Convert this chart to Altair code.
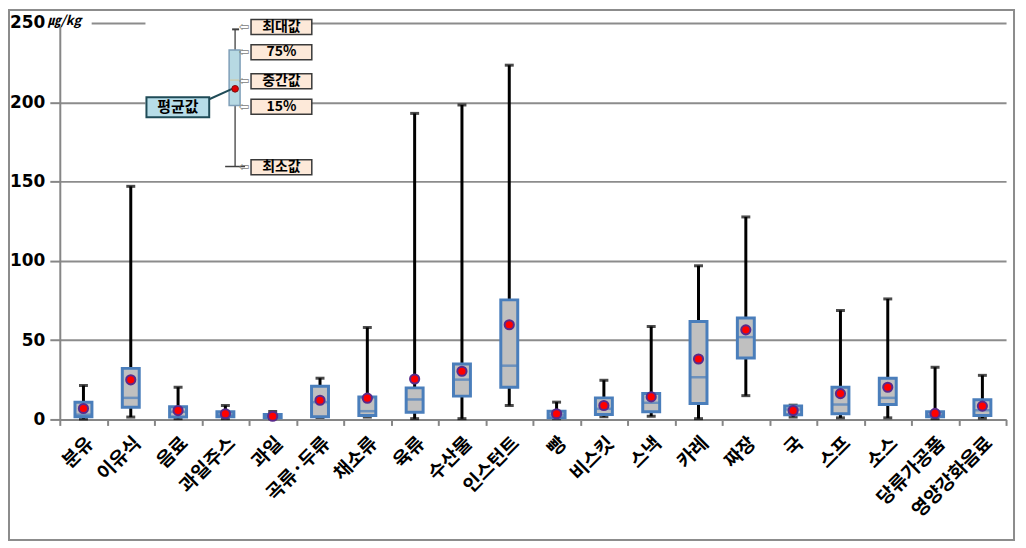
import altair as alt
import pandas as pd

# ---------------- data ----------------
categories = ["분유", "이유식", "음료", "과일주스", "과일", "곡류·두류", "채소류", "육류", "수산물",
              "인스턴트", "빵", "비스킷", "스낵", "카레", "짜장", "국", "스프", "소스", "당류가공품", "영양강화음료"]
v_min = [0.3, 1.5, 0.5, 0.5, 0.5, 1.2, 1.5, 0.5, 0.5, 8.8, 0.5, 1.7, 2.0, 0.5, 15.0, 1.5, 1.0, 1.0, 0.5, 0.8]
v_q1 = [1.7, 7.7, 1.5, 1.7, 1.0, 1.7, 2.5, 4.6, 14.7, 20.3, 1.0, 3.1, 4.8, 10.0, 38.7, 2.9, 3.6, 9.4, 1.7, 2.5]
v_med = [3.0, 13.6, 4.8, 3.0, 2.0, 10.9, 5.2, 12.6, 25.1, 33.9, 3.0, 6.7, 10.5, 26.6, 51.9, 6.3, 9.4, 13.6, 3.0, 5.8]
v_q3 = [10.9, 32.2, 8.0, 4.8, 3.1, 21.0, 14.2, 19.9, 35.0, 75.4, 5.2, 13.6, 16.3, 61.8, 63.9, 8.4, 20.3, 26.0, 4.8, 12.4]
v_max = [21.4, 147.0, 20.3, 8.8, 5.0, 26.0, 58.0, 193.0, 198.3, 223.4, 10.9, 24.7, 58.6, 96.9, 127.7, 9.0, 68.7, 76.0, 32.9, 27.8]
v_mean = [6.9, 25.0, 5.6, 3.6, 2.0, 12.1, 13.4, 25.5, 30.4, 59.7, 3.6, 8.8, 14.2, 38.1, 56.5, 5.6, 16.3, 20.3, 3.8, 8.4]

y_ticks = [0, 50, 100, 150, 200, 250]
unit_label = "㎍/kg"

# schematic legend box (in data units)
leg_min, leg_q1, leg_med, leg_q3, leg_max, leg_mean = 159.5, 198.0, 214.0, 233.0, 246.0, 208.5
callout_labels = ["최대값", "75%", "중간값", "15%", "최소값"]
callout_values = [247.5, 231.5, 213.3, 197.2, 159.0]
mean_label = "평균값"
mean_label_value = 196.9

df = pd.DataFrame({"cat": categories, "vmin": v_min, "q1": v_q1, "med": v_med,
                   "q3": v_q3, "vmax": v_max, "mean": v_mean})
leg = pd.DataFrame({"lmin": [leg_min], "lq1": [leg_q1], "lmed": [leg_med], "lq3": [leg_q3],
                    "lmax": [leg_max], "lmean": [leg_mean], "mlv": [mean_label_value],
                    "mlabel": [mean_label], "unit": [unit_label]})
calls = pd.DataFrame({"label": callout_labels, "v": callout_values})
one = pd.DataFrame({"a": [0]})

# ---------------- encodings ----------------
W, H = 950, 398
yscale = alt.Scale(domain=[0, 250], nice=False, zero=True)
xscale = alt.Scale(domain=categories, paddingInner=0, paddingOuter=0)

x_axis = alt.Axis(title=None, labelAngle=-45, labelFont="Noto Sans CJK KR", labelFontWeight="bold",
                  labelFontSize=19, labelColor="black", labelPadding=8, tickBand="extent", tickSize=6,
                  tickColor="#868686", tickWidth=2, domainColor="#868686", domainWidth=2, grid=False,
                  labelOverlap=False)
y_axis = alt.Axis(title=None, values=y_ticks, labelFont="DejaVu Sans", labelFontWeight="bold",
                  labelFontSize=17, labelColor="black", labelPadding=5, tickSize=10, tickColor="#868686",
                  tickWidth=2, domainColor="#868686", domainWidth=2, grid=True, gridColor="#8c8c8c",
                  gridWidth=2)

X = alt.X("cat:N", sort=categories, scale=xscale, axis=x_axis)

def Yq(field):
    return alt.Y(f"{field}:Q", scale=yscale, axis=y_axis)

base = alt.Chart(df)

whisker = base.mark_rule(color="black", strokeWidth=3).encode(x=X, y=Yq("vmin"), y2="vmax")
cap_hi = base.mark_tick(color="black", size=9, thickness=3).encode(x=X, y=Yq("vmax"))
cap_lo = base.mark_tick(color="black", size=9, thickness=3).encode(x=X, y=Yq("vmin"))
box = base.mark_bar(size=17, fill="#c0c0c0", stroke="#4a7ebb", strokeWidth=3).encode(
    x=X, y=Yq("q1"), y2="q3")
median = base.mark_tick(color="#4a7ebb", size=17, thickness=2.5).encode(x=X, y=Yq("med"))
mean = base.mark_point(filled=True, shape="circle", size=85, fill="#ff0000", stroke="#5a2a8a",
                       strokeWidth=2, opacity=1).encode(x=X, y=Yq("mean"))

# ---------------- decoration / legend ----------------
frame = alt.Chart(one).mark_rect(fill="transparent", stroke="#8c8c8c", strokeWidth=2).encode(
    x=alt.value(-51), x2=alt.value(958), y=alt.value(-13), y2=alt.value(519))

bg_unit = alt.Chart(one).mark_rect(fill="white").encode(
    x=alt.value(-13), x2=alt.value(32), y=alt.value(-9), y2=alt.value(4))
bg_leg = alt.Chart(one).mark_rect(fill="white").encode(
    x=alt.value(86), x2=alt.value(193), y=alt.value(-9), y2=alt.value(153))

unit = alt.Chart(leg).mark_text(font="Noto Sans CJK KR", fontWeight="bold", fontSize=13,
                                fontStyle="italic", align="left", baseline="middle",
                                color="black").encode(
    x=alt.value(-12), y=alt.value(-2), text="unit:N")

lg = alt.Chart(leg)
l_whisk = lg.mark_rule(color="#595959", strokeWidth=1.5).encode(
    x=alt.value(176), y=alt.Y("lmin:Q", scale=yscale), y2="lmax")
l_cap_top = lg.mark_rule(color="#404040", strokeWidth=2).encode(
    x=alt.value(173), x2=alt.value(180), y=alt.Y("lmax:Q", scale=yscale))
l_cap_bot = lg.mark_rule(color="#404040", strokeWidth=1.5).encode(
    x=alt.value(166), x2=alt.value(186), y=alt.Y("lmin:Q", scale=yscale))
l_box = lg.mark_rect(fill="#b7d9e3", stroke="#7f9fb8", strokeWidth=1.5).encode(
    x=alt.value(170), x2=alt.value(181), y=alt.Y("lq1:Q", scale=yscale), y2="lq3")
l_med = lg.mark_rule(color="#d8c690", strokeWidth=1).encode(
    x=alt.value(171), x2=alt.value(180), y=alt.Y("lmed:Q", scale=yscale))
l_conn = lg.mark_rule(color="#1f4b57", strokeWidth=2, yOffset=-8).encode(
    x=alt.value(150), x2=alt.value(173), y=alt.Y("mlv:Q", scale=yscale), y2="lmean")
l_mean = lg.mark_point(filled=True, shape="circle", size=45, fill="#e00000", stroke="#7a1010",
                       strokeWidth=1, opacity=1).encode(
    x=alt.value(176), y=alt.Y("lmean:Q", scale=yscale))
l_mrect = lg.mark_rect(fill="#b7dde8", stroke="#1f4b57", strokeWidth=2, yOffset=-10, y2Offset=10).encode(
    x=alt.value(87), x2=alt.value(150), y=alt.Y("mlv:Q", scale=yscale), y2="mlv")
l_mtext = lg.mark_text(font="Noto Sans CJK KR", fontWeight="bold", fontSize=15, color="black",
                       align="center", baseline="middle").encode(
    x=alt.value(118.5), y=alt.Y("mlv:Q", scale=yscale), text="mlabel:N")

cl = alt.Chart(calls)
c_rect = cl.mark_rect(fill="#fde9d9", stroke="#3a3a3a", strokeWidth=1.5, yOffset=-7.5, y2Offset=7.5).encode(
    x=alt.value(192), x2=alt.value(253), y=alt.Y("v:Q", scale=yscale), y2="v")
c_text = cl.mark_text(font="Noto Sans CJK KR", fontWeight="bold", fontSize=14, color="black",
                      align="center", baseline="middle").encode(
    x=alt.value(222.5), y=alt.Y("v:Q", scale=yscale), text="label:N")
c_arrow = cl.mark_text(font="DejaVu Sans", fontSize=13, color="#808080", align="center",
                       baseline="middle").encode(
    x=alt.value(185), y=alt.Y("v:Q", scale=yscale), text=alt.value("⇦"))

chart = alt.layer(
    whisker, cap_hi, cap_lo, box, median, mean,
    bg_unit, bg_leg, unit,
    l_whisk, l_cap_top, l_cap_bot, l_box, l_med, l_mrect, l_conn, l_mean, l_mtext,
    c_rect, c_text, c_arrow,
    frame,
).properties(
    width=W, height=H,
    autosize=alt.AutoSizeParams(type="none"),
    padding={"left": 52, "top": 14, "right": 12, "bottom": 126},
).configure_view(stroke=None)

chart.save("out.html", embed_options={"renderer": "svg", "actions": False})
